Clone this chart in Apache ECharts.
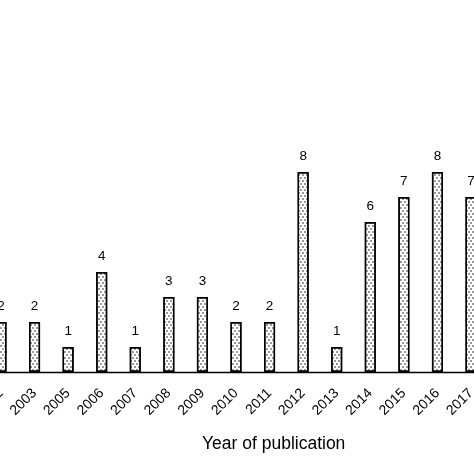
<!DOCTYPE html>
<html><head><meta charset="utf-8">
<script src="https://cdn.jsdelivr.net/npm/echarts@6/dist/echarts.min.js"></script>
<style>html,body{margin:0;padding:0;background:#fff}#c{width:474px;height:474px}</style>
</head><body><div id="c"></div>
<script>
const years = ['2002','2003','2005','2006','2007','2008','2009','2010','2011','2012','2013','2014','2015','2016','2017'];
const counts = [2,2,1,4,1,3,3,2,2,8,1,6,7,8,7];
const axisTitle = 'Year of publication';
const FONT = 'Liberation Sans';
const chart = echarts.init(document.getElementById('c'));
chart.setOption({
  backgroundColor: '#fff',
  animation: false,
  textStyle: {fontFamily: FONT},
  title: {
    text: axisTitle, left: 197, top: 430,
    textStyle: {fontFamily: FONT, fontSize: 17.5, fontWeight: 'normal', color: '#000'}
  },
  grid: {left: -15.8, right: -13.8, top: 22, bottom: 102, containLabel: false, outerBoundsMode: 'none'},
  xAxis: {
    type: 'category', data: years,
    axisLine: {lineStyle: {color: '#000', width: 1.3}},
    axisTick: {show: false},
    axisLabel: {rotate: 45, color: '#000', fontSize: 14, margin: 19, fontFamily: FONT, interval: 0}
  },
  yAxis: {type: 'value', min: 0, max: 14, show: false},
  series: [{
    type: 'bar', data: counts, barWidth: 11,
    itemStyle: {
      color: '#fff', borderColor: '#000', borderWidth: 1.4,
      decal: {symbol: 'circle', symbolSize: 0.8, color: 'rgba(0,0,0,0.9)',
              dashArrayX: [[2, 2], [0, 2, 2, 0]], dashArrayY: [2, 1], rotation: 0}
    },
    label: {show: true, position: 'top', distance: 9, color: '#000', fontSize: 13.5, fontFamily: FONT}
  }]
});
</script></body></html>
